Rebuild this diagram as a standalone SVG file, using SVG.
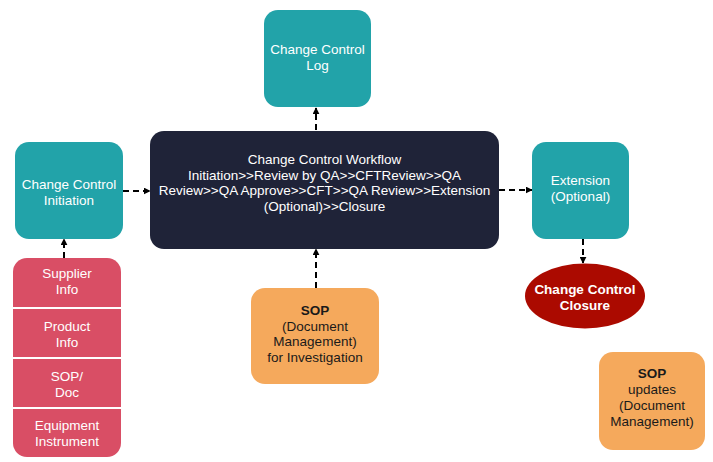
<svg xmlns="http://www.w3.org/2000/svg" width="713" height="462" viewBox="0 0 713 462">
<style>
text{font-family:"Liberation Sans",Arial,sans-serif;font-size:13.5px;text-anchor:middle}
.w{fill:#ffffff}
.k{fill:#1a1a1a}
.teal{fill:#22a3a9}
.dark{fill:#1f2338}
.pink{fill:#d94e65}
.orange{fill:#f5a95c}
.conn{stroke:#000;stroke-width:2;stroke-dasharray:6 4;fill:none;marker-end:url(#ah)}
</style>
<defs>
<marker id="ah" viewBox="0 0 10 10" refX="9" refY="5" markerWidth="7" markerHeight="7" orient="auto" markerUnits="userSpaceOnUse">
<path d="M0,0 L10,5 L0,10 z" fill="#000"/>
</marker>
</defs>
<rect width="713" height="462" fill="#fff"/>
<g id="connectors">
<path class="conn" d="M316,130 L316,108"/>
<path class="conn" d="M123,191 L150,191"/>
<path class="conn" d="M499,190 L532,190"/>
<path class="conn" d="M583,239 L583,263"/>
<path class="conn" d="M316,288 L316,249"/>
<path class="conn" d="M64,258 L64,239"/>
</g>
<g id="log">
<rect class="teal" x="264" y="10" width="107" height="97" rx="14"/>
<text class="w" x="317.5" y="54">Change Control</text>
<text class="w" x="317.5" y="70">Log</text>
</g>
<g id="workflow">
<rect class="dark" x="150" y="131" width="349" height="118" rx="14"/>
<text class="w" x="324.5" y="164">Change Control Workflow</text>
<text class="w" x="324.5" y="179.5">Initiation&gt;&gt;Review by QA&gt;&gt;CFTReview&gt;&gt;QA</text>
<text class="w" x="324.5" y="195">Review&gt;&gt;QA Approve&gt;&gt;CFT&gt;&gt;QA Review&gt;&gt;Extension</text>
<text class="w" x="324.5" y="210.5">(Optional)&gt;&gt;Closure</text>
</g>
<g id="initiation">
<rect class="teal" x="15" y="142" width="108" height="97" rx="14"/>
<text class="w" x="69" y="189">Change Control</text>
<text class="w" x="69" y="205">Initiation</text>
</g>
<g id="inputs">
<path class="pink" d="M27,258 H107 A14,14 0 0 1 121,272 V307 H13 V272 A14,14 0 0 1 27,258 Z"/>
<rect class="pink" x="13" y="309" width="108" height="48"/>
<rect class="pink" x="13" y="359" width="108" height="48"/>
<path class="pink" d="M13,409 H121 V443 A14,14 0 0 1 107,457 H27 A14,14 0 0 1 13,443 Z"/>
<text class="w" x="67" y="278">Supplier</text>
<text class="w" x="67" y="294">Info</text>
<text class="w" x="67" y="331">Product</text>
<text class="w" x="67" y="347">Info</text>
<text class="w" x="67" y="381">SOP/</text>
<text class="w" x="67" y="397">Doc</text>
<text class="w" x="67" y="430">Equipment</text>
<text class="w" x="67" y="446">Instrument</text>
</g>
<g id="extension">
<rect class="teal" x="532" y="142" width="97" height="97" rx="14"/>
<text class="w" x="580.5" y="185">Extension</text>
<text class="w" x="580.5" y="201">(Optional)</text>
</g>
<g id="closure">
<ellipse cx="585" cy="296" rx="60" ry="32.5" fill="#ab0a00"/>
<text class="w" x="585" y="294" font-weight="bold">Change Control</text>
<text class="w" x="585" y="310" font-weight="bold">Closure</text>
</g>
<g id="sop">
<rect class="orange" x="251" y="288" width="128" height="96" rx="14"/>
<text class="k" x="315" y="315" font-weight="bold">SOP</text>
<text class="k" x="315" y="330.5">(Document</text>
<text class="k" x="315" y="346">Management)</text>
<text class="k" x="315" y="361.5">for Investigation</text>
</g>
<g id="sop-updates">
<rect class="orange" x="599" y="352" width="106" height="98" rx="14"/>
<text class="k" x="652" y="378" font-weight="bold">SOP</text>
<text class="k" x="652" y="394">updates</text>
<text class="k" x="652" y="410">(Document</text>
<text class="k" x="652" y="426">Management)</text>
</g>
</svg>
